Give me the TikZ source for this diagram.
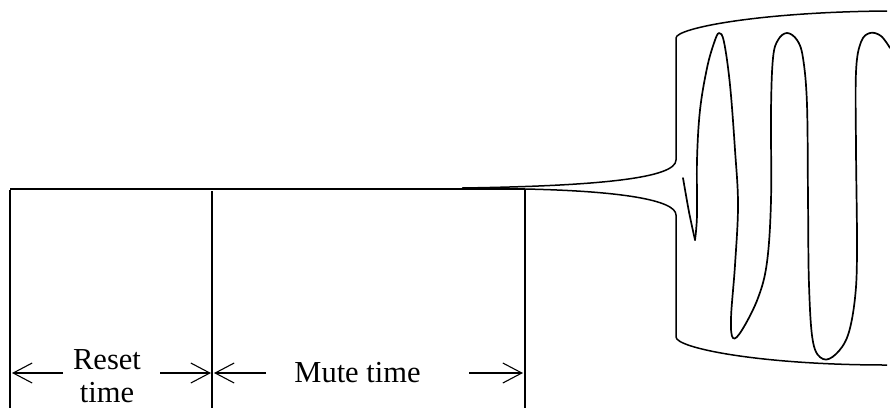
\documentclass[tikz,border=0pt]{standalone}
\usepackage{fontspec}
\setmainfont{Liberation Serif}
\usetikzlibrary{arrows.meta}
\begin{document}
\begin{tikzpicture}[x=1pt,y=-1pt,
  thinline/.style={line width=1.3pt},
  envline/.style={line width=1.5pt},
  waveline/.style={line width=1.7pt, line join=round, line cap=round},
  dimarrow/.style={line width=1.1pt, -{Straight Barb[length=19pt,width=20pt,line width=1.1pt]}},
  lbl/.style={font=\fontsize{30.5}{33}\selectfont, inner sep=0pt, align=center}]
\useasboundingbox (0,0) rectangle (890,408);
% coordinates
\coordinate (b0) at (10,189);
\coordinate (b1) at (525,189);
\coordinate (u0) at (462,188);
\coordinate (u1) at (676,160);
\coordinate (u2) at (676,38);
\coordinate (u3) at (887,11);
\coordinate (l1) at (676,215);
\coordinate (l2) at (676,337);
\coordinate (l3) at (887,365);
\coordinate (v0t) at (10,190);
\coordinate (v0b) at (10,408);
\coordinate (v1t) at (212,191);
\coordinate (v1b) at (212,408);
\coordinate (v2t) at (525,189);
\coordinate (v2b) at (525,408);
% baseline and verticals
\draw[thinline] (b0) -- (b1);
\draw[thinline] (v0t) -- (v0b);
\draw[thinline] (v1t) -- (v1b);
\draw[thinline] (v2t) -- (v2b);
% envelope
\draw[envline] (u0) .. controls (600,186) and (676,178) .. (u1) -- (u2)
  .. controls (676,28) and (760,12) .. (u3);
\draw[envline] (b1) .. controls (620,191) and (676,200) .. (l1) -- (l2)
  .. controls (676,348) and (760,365) .. (l3);
% wave
\draw[waveline] plot[smooth] coordinates {(683,178) (689,212) (695,240)};
\draw[waveline] plot[smooth, tension=0.6] coordinates {(695,240) (697,215) (697,160) (700,110) (707,68) (714,43) (719,33) (724,42) (730,85) (735,150) (738,205) (735,265) (731,318) (733,338) (742,330) (758,298) (767,262) (771,200) (771,110) (773,58) (778,40) (787,33) (797,40) (803,58) (807,105) (808,200) (809,285) (813,342) (823,359) (836,354) (848,335) (855,298) (857,250) (856,150) (856,72) (861,42) (870,33) (881,36) (890,48)};
% labels
\node[lbl] (reset) at (107,376) {Reset\\time};
\node[lbl, anchor=base] (mute) at (357.5,382) {Mute time};
% dimension arrows
\coordinate (ra1) at (63,373);
\coordinate (ra1t) at (12,373);
\coordinate (ra2) at (160,373);
\coordinate (ra2t) at (211,373);
\coordinate (ma1) at (266,373);
\coordinate (ma1t) at (214,373);
\coordinate (ma2) at (469,373);
\coordinate (ma2t) at (523,373);
\draw[dimarrow] (ra1) -- (ra1t);
\draw[dimarrow] (ra2) -- (ra2t);
\draw[dimarrow] (ma1) -- (ma1t);
\draw[dimarrow] (ma2) -- (ma2t);
\end{tikzpicture}
\end{document}
